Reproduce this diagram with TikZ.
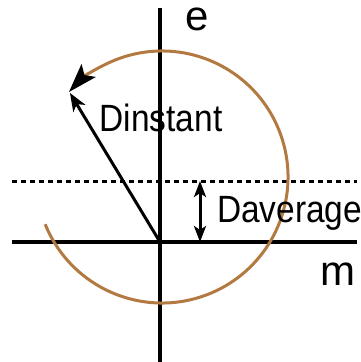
\documentclass[tikz,border=0pt]{standalone}
\usepackage{fontspec}
\setmainfont{Liberation Sans}
\newfontfamily\labelfont[FakeStretch=0.88]{Liberation Sans}
\usepackage{tikz}
\usetikzlibrary{arrows.meta,positioning,calc}
\definecolor{spiralbrown}{RGB}{178,122,64}

\begin{document}
\begin{tikzpicture}[x=1pt, y=-1pt,
		axis/.style={line width=3.3pt},
		vec/.style={line width=3pt, -{Stealth[length=18pt, width=14pt, inset=5pt]}},
		bar/.style={line width=3pt, {Stealth[length=16pt, width=12pt, inset=4pt]}-{Stealth[length=16pt, width=12pt, inset=4pt]}},
		lbl/.style={inner sep=0pt, anchor=base west, font=\labelfont\fontsize{38}{38}\selectfont},
		axlbl/.style={inner sep=0pt, anchor=base west, font=\fontsize{42}{42}\selectfont}
		]
		\useasboundingbox (0,0) rectangle (360,362);
		% axes
		\coordinate (O) at (160,242);
		\coordinate (etop) at (160,8);
		\coordinate (ebot) at (160,362);
		\coordinate (mleft) at (12,242);
		\coordinate (mright) at (357,242);
		\draw[axis] (etop) -- (ebot);
		\draw[axis] (mleft) -- (mright);
		\node[axlbl] (e) at (185,30) {e};
		\node[axlbl] (m) at (320,285) {m};
		% average level
		\coordinate (avgleft) at (12,181);
		\coordinate (avgright) at (357,181);
		\draw[line width=3pt, dash pattern=on 5pt off 4pt] (avgleft) -- (avgright);
		% spiral
		\coordinate (c) at (162,177);
		\draw[line width=3pt, spiralbrown, -{Stealth[black, length=29pt, width=19pt, inset=6pt]}]
			($(c)+(158:126)$) arc[start angle=158, end angle=-137.6, radius=126];
		% instant vector
		\coordinate (tip) at (70,93);
		\draw[vec] (O) -- (tip);
		\node[lbl] (dinst) at (99.5,131) {Dinstant};
		% average distance
		\coordinate (abot) at (200,242);
		\coordinate (atop) at (200,181);
		\draw[bar] (atop) -- (abot);
		\node[lbl] (davg) at (217,222) {Daverage};
\end{tikzpicture}
\end{document}
